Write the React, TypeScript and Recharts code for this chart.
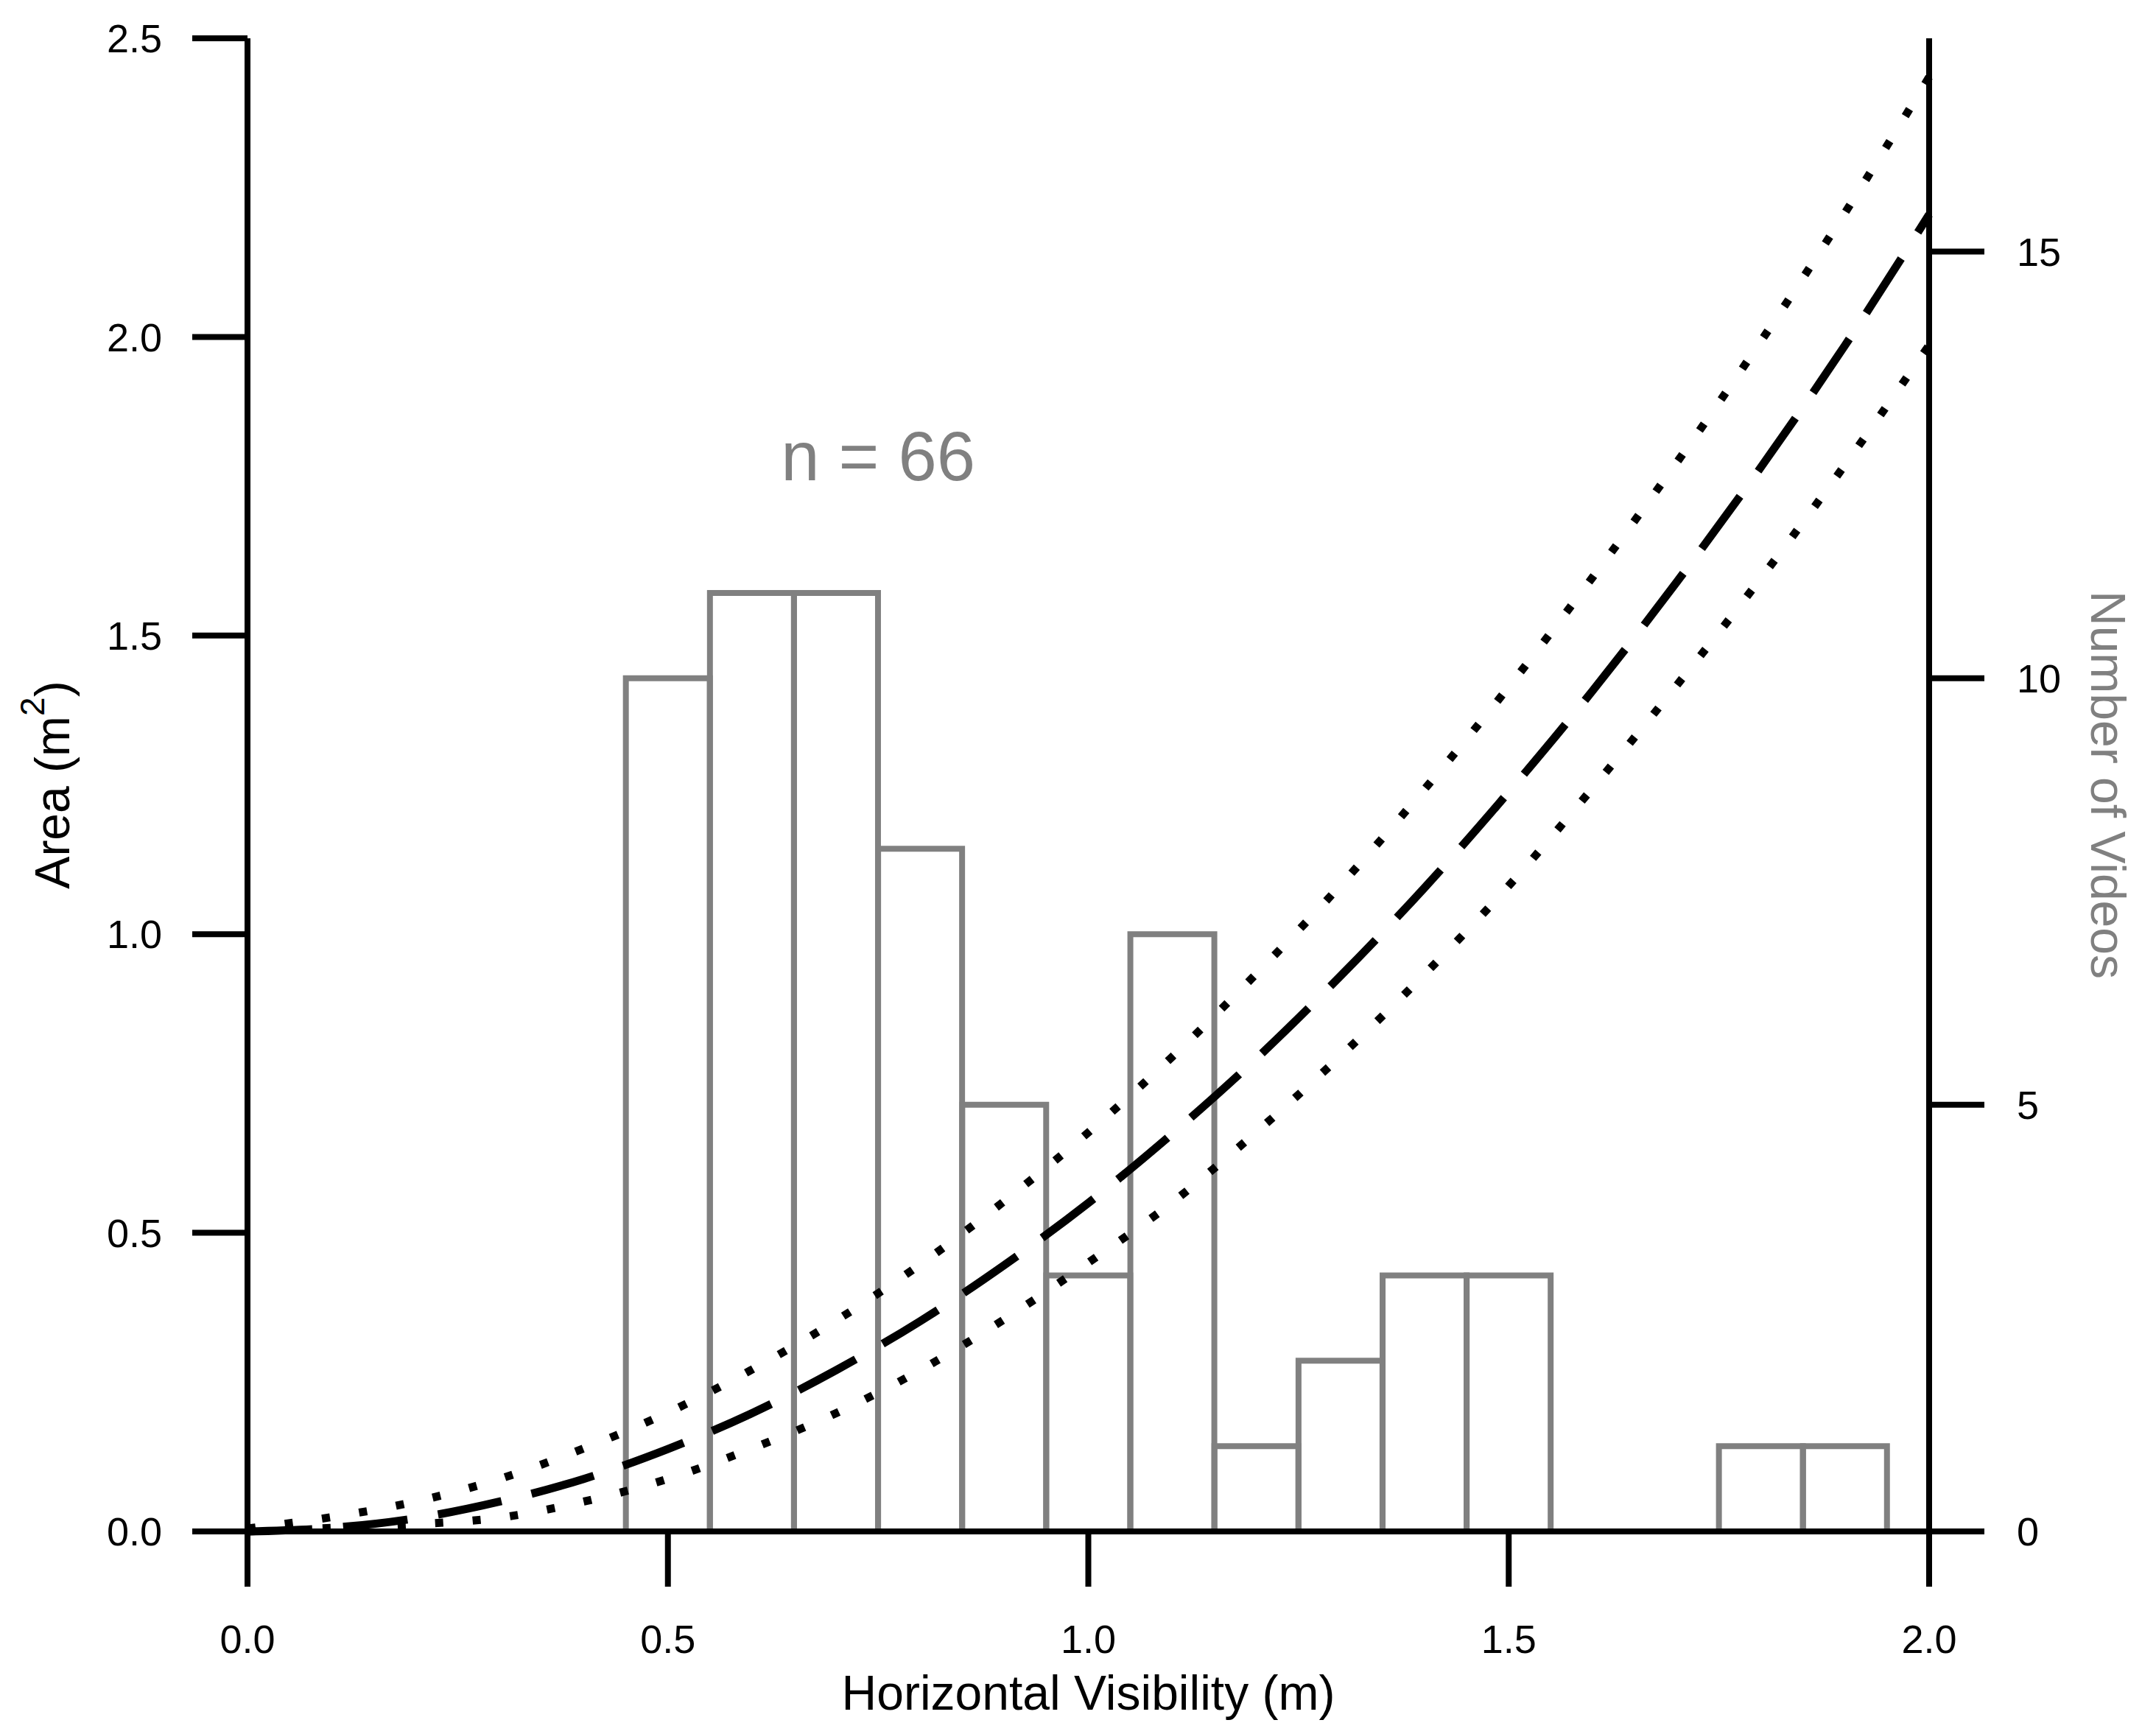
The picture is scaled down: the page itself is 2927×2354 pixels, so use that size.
import React from 'react';
import {Bar, ComposedChart, Line, ReferenceDot, XAxis, YAxis} from 'recharts';

// horizontal visibility (m), 0.1 m bins / curve sample points
const visibility: number[] = [0, 0.1, 0.2, 0.3, 0.4, 0.5, 0.6, 0.7, 0.8, 0.9, 1.0, 1.1, 1.2, 1.3, 1.4, 1.5, 1.6, 1.7, 1.8, 1.9, 2.0];

// number of videos per bin (right axis)
const videoCounts: (number | null)[] = [null, null, null, null, null, 10, 11, 11, 8, 5, 3, 7, 1, 2, 3, 3, null, null, 1, 1, null];

// area (m2) curves (left axis)
const areaFit: number[] = [0.0, 0.006, 0.022, 0.05, 0.088, 0.138, 0.198, 0.27, 0.352, 0.446, 0.55, 0.666, 0.792, 0.93, 1.078, 1.238, 1.408, 1.59, 1.782, 1.986, 2.205];
const areaUpper: number[] = [0.005, 0.024, 0.05, 0.088, 0.139, 0.199, 0.271, 0.353, 0.447, 0.553, 0.668, 0.795, 0.934, 1.082, 1.243, 1.414, 1.598, 1.79, 1.993, 2.208, 2.435];
const areaLower: number[] = [0.0, 0.006, 0.012, 0.023, 0.05, 0.088, 0.139, 0.198, 0.27, 0.355, 0.45, 0.551, 0.669, 0.796, 0.933, 1.081, 1.245, 1.417, 1.596, 1.786, 1.986];

const xTicks: number[] = [0, 0.5, 1, 1.5, 2];
const areaTicks: number[] = [0, 0.5, 1, 1.5, 2, 2.5];
const countTicks: number[] = [0, 5, 10, 15];

const data = visibility.map((v, i) => ({
    visibility: v,
    videos: videoCounts[i],
    fit: areaFit[i],
    upper: areaUpper[i],
    lower: areaLower[i],
}));

const FONT = '"Liberation Sans", Arial, Helvetica, sans-serif';
const GREY = '#808080';
const tickStyle = {fill: '#000', fontSize: 54, fontFamily: FONT};
const lineStyle = {stroke: '#000', strokeWidth: 8};

function XTitle(props: any) {
    const {x, y, width} = props.viewBox;
    return (
        <text x={x + width / 2} y={y + 242} textAnchor="middle" fontSize={66} fontFamily={FONT} fill="#000">
            Horizontal Visibility (m)
        </text>
    );
}

function AreaTitle(props: any) {
    const {x, y, height} = props.viewBox;
    return (
        <text transform={`translate(${x + 94},${y + height / 2}) rotate(-90)`} textAnchor="middle"
              fontSize={66} fontFamily={FONT} fill="#000">
            Area (m<tspan dy={-34} fontSize={46}>2</tspan><tspan dy={34}>)</tspan>
        </text>
    );
}

function CountTitle(props: any) {
    const {x, y, height} = props.viewBox;
    return (
        <text transform={`translate(${x + 220},${y + height / 2}) rotate(90)`} textAnchor="middle"
              fontSize={66} fontFamily={FONT} fill={GREY}>
            Number of Videos
        </text>
    );
}

function SampleSize(props: any) {
    const {x, y} = props.viewBox;
    return (
        <text x={x} y={y} textAnchor="middle" fontSize={94} fontFamily={FONT} fill={GREY}>
            n = 66
        </text>
    );
}

export default function App(): React.JSX.Element {
    return (
        <div style={{position: 'absolute', left: 0, top: 0, background: '#fff'}}>
            <ComposedChart width={2927} height={2354} data={data}
                           margin={{top: 52, right: 0, left: 0, bottom: 0}}
                           barCategoryGap={0} barGap={0}>
                <XAxis dataKey="visibility" type="number" domain={[0, 2]} ticks={xTicks}
                       tickFormatter={(v: number) => v.toFixed(1)} height={275}
                       tick={tickStyle} tickSize={75} tickMargin={52}
                       axisLine={lineStyle} tickLine={lineStyle} label={XTitle}/>
                <YAxis yAxisId="area" orientation="left" domain={[0, 2.5]} ticks={areaTicks}
                       tickFormatter={(v: number) => v.toFixed(1)} width={336}
                       tick={tickStyle} tickSize={75} tickMargin={41}
                       axisLine={lineStyle} tickLine={lineStyle} label={AreaTitle}/>
                <YAxis yAxisId="count" orientation="right" domain={[0, 17.5]} ticks={countTicks}
                       width={308} tick={tickStyle} tickSize={75} tickMargin={44}
                       axisLine={lineStyle} tickLine={lineStyle} label={CountTitle}/>
                <Bar yAxisId="count" dataKey="videos" fill="none" stroke={GREY} strokeWidth={8}
                     isAnimationActive={false}/>
                <Line yAxisId="area" dataKey="upper" type="monotone" stroke="#000" strokeWidth={11}
                      strokeDasharray="11 40" dot={false} activeDot={false} isAnimationActive={false}/>
                <Line yAxisId="area" dataKey="lower" type="monotone" stroke="#000" strokeWidth={11}
                      strokeDasharray="11 40" dot={false} activeDot={false} isAnimationActive={false}/>
                <Line yAxisId="area" dataKey="fit" type="monotone" stroke="#000" strokeWidth={11}
                      strokeDasharray="88 42" dot={false} activeDot={false} isAnimationActive={false}/>
                <ReferenceDot yAxisId="area" x={0.75} y={1.76} r={0} fill="none" stroke="none"
                              label={SampleSize}/>
            </ComposedChart>
        </div>
    );
}
